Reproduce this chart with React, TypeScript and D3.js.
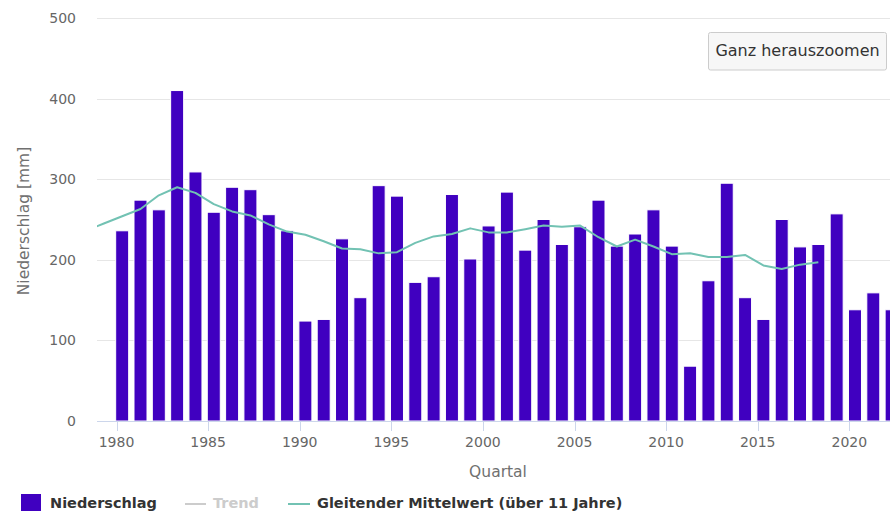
import React from "react";
import * as d3 from "d3";

// Niederschlag per year (mm)
const years = [
  1980, 1981, 1982, 1983, 1984, 1985, 1986, 1987, 1988, 1989, 1990, 1991, 1992,
  1993, 1994, 1995, 1996, 1997, 1998, 1999, 2000, 2001, 2002, 2003, 2004, 2005,
  2006, 2007, 2008, 2009, 2010, 2011, 2012, 2013, 2014, 2015, 2016, 2017, 2018,
  2019, 2020, 2021, 2022,
];
const niederschlag = [
  236, 274, 262, 410, 309, 259, 290, 287, 256, 236, 124, 126, 226, 153, 292, 279,
  172, 179, 281, 201, 242, 284, 212, 250, 219, 241, 274, 217, 232, 262, 217, 68,
  174, 295, 153, 126, 250, 216, 219, 257, 138, 159, 138,
];

// Gleitender Mittelwert (über 11 Jahre)
const maYears = d3.range(1978, 2019);
const maValues = [
  236, 245, 254, 263, 280, 290, 283, 269, 260, 255, 244, 235, 231, 223, 214, 213,
  208, 209.5, 221, 229, 232, 239, 234, 234, 238, 242.5, 241, 242.5, 228, 216.5,
  225, 216.5, 207, 208, 203.5, 203.5, 206, 193, 188.5, 194, 197,
];

const yTicks = [0, 100, 200, 300, 400, 500];
const xTicks = [1980, 1985, 1990, 1995, 2000, 2005, 2010, 2015, 2020];

const W = 890;
const H = 511;
const plot = { left: 97, right: 890, top: 18, bottom: 421 };
const font = "'DejaVu Sans', Verdana, sans-serif";
const barColor = "#4000c0";
const maColor = "#72c2b3";

export default function App() {
  const x = d3.scaleLinear().domain([1980, 2020]).range([116.5, 849.3]);
  const y = d3.scaleLinear().domain([0, 500]).range([plot.bottom, plot.top]);
  const offset = 0.31; // Quartal position within the year
  const barW = 13;

  const line = d3
    .line<number>()
    .x((_, i) => x(maYears[i] + offset))
    .y((d) => y(d));

  return (
    <svg
      width={W}
      height={H}
      style={{ position: "absolute", left: 0, top: 0, fontFamily: font }}
    >
      <defs>
        <clipPath id="plotclip">
          <rect
            x={plot.left}
            y={plot.top - 5}
            width={plot.right - plot.left}
            height={plot.bottom - plot.top + 5}
          />
        </clipPath>
      </defs>
      <rect width={W} height={H} fill="#fff" />

      {/* grid */}
      {yTicks.map((t) => (
        <g key={t}>
          <line
            x1={plot.left}
            x2={plot.right}
            y1={Math.round(y(t)) + 0.5}
            y2={Math.round(y(t)) + 0.5}
            stroke="#e6e6e6"
          />
          <text
            x={76}
            y={y(t)}
            dy="0.35em"
            textAnchor="end"
            fontSize={14}
            fill="#666"
          >
            {t}
          </text>
        </g>
      ))}

      <g clipPath="url(#plotclip)">
        {years.map((yr, i) => (
          <rect
            key={yr}
            x={x(yr + offset) - barW / 2}
            y={y(niederschlag[i])}
            width={barW}
            height={plot.bottom - y(niederschlag[i])}
            fill={barColor}
            stroke="#fff"
            strokeWidth={1}
          />
        ))}
        <path
          d={line(maValues) || ""}
          fill="none"
          stroke={maColor}
          strokeWidth={2}
          strokeLinejoin="round"
        />
      </g>

      {/* x axis */}
      <line
        x1={plot.left}
        x2={plot.right}
        y1={plot.bottom + 0.5}
        y2={plot.bottom + 0.5}
        stroke="#ccd6eb"
      />
      {xTicks.map((t) => (
        <g key={t}>
          <line
            x1={Math.round(x(t)) + 0.5}
            x2={Math.round(x(t)) + 0.5}
            y1={plot.bottom}
            y2={plot.bottom + 10}
            stroke="#ccd6eb"
          />
          <text
            x={x(t)}
            y={447}
            textAnchor="middle"
            fontSize={14}
            fill="#666"
          >
            {t}
          </text>
        </g>
      ))}

      <text x={498} y={477} textAnchor="middle" fontSize={15.5} fill="#707070">
        Quartal
      </text>
      <text
        transform="translate(29,221) rotate(-90)"
        textAnchor="middle"
        fontSize={15.5}
        fill="#707070"
      >
        Niederschlag [mm]
      </text>

      {/* zoom button */}
      <rect
        x={708.5}
        y={32.5}
        width={178}
        height={37.5}
        rx={2}
        fill="#f7f7f7"
        stroke="#cccccc"
      />
      <text x={797.5} y={56} textAnchor="middle" fontSize={16} fill="#333">
        Ganz herauszoomen
      </text>

      {/* legend */}
      <g fontSize={14.5} fontWeight="bold">
        <rect x={21} y={494} width={20} height={20} fill={barColor} />
        <text x={50} y={508} fill="#333">
          Niederschlag
        </text>
        <line x1={185} x2={206} y1={504} y2={504} stroke="#cccccc" strokeWidth={2} />
        <text x={213} y={508} fill="#cccccc">
          Trend
        </text>
        <line x1={288} x2={310} y1={504} y2={504} stroke={maColor} strokeWidth={2} />
        <text x={317} y={508} fill="#333">
          Gleitender Mittelwert (über 11 Jahre)
        </text>
      </g>
    </svg>
  );
}
